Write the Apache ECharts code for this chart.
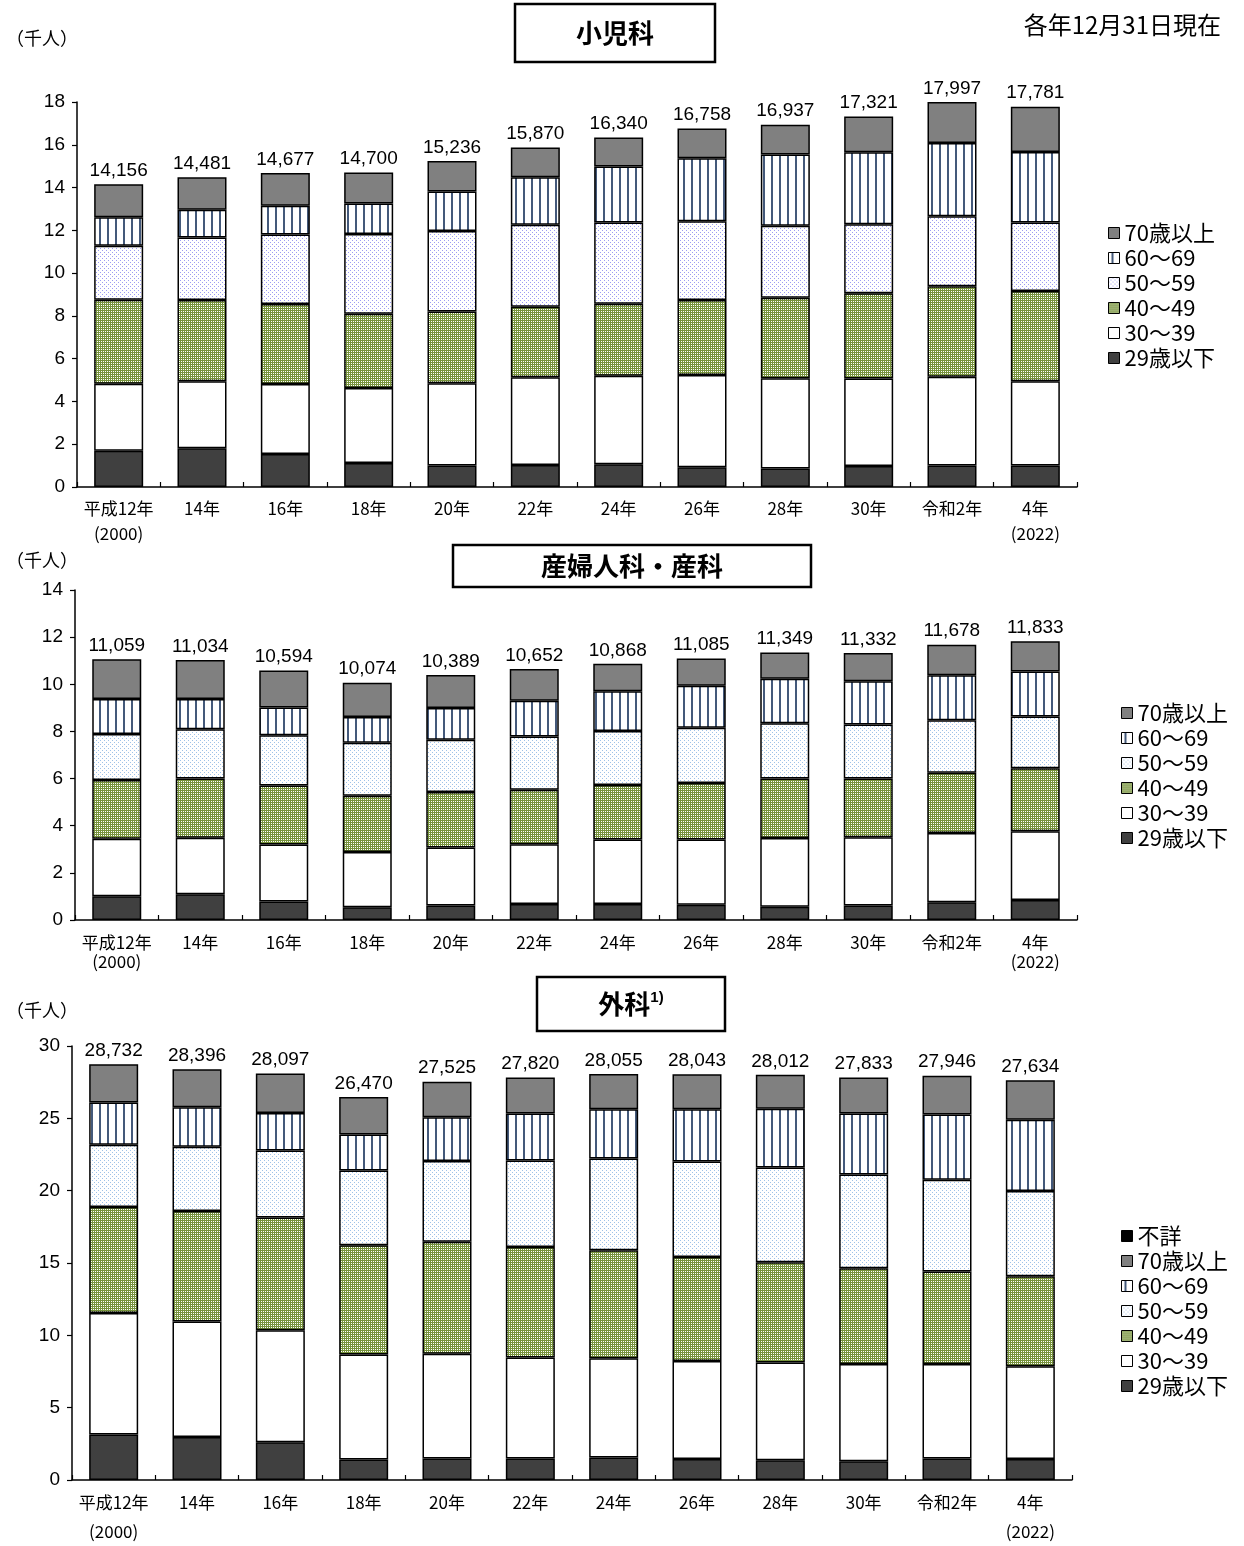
<!DOCTYPE html>
<html>
<head>
<meta charset="utf-8">
<script src="https://cdn.jsdelivr.net/npm/echarts@6/dist/echarts.min.js"></script>
<style>
html,body{margin:0;padding:0;background:#fff;}
#main{width:1244px;height:1546px;}
</style>
</head>
<body>
<div id="main"></div>
<script>
// ---------------- DATA ----------------
const categories = ['平成12年\n(2000)','14年','16年','18年','20年','22年','24年','26年','28年','30年','令和2年','4年\n(2022)'];
const ageNames = ['29歳以下','30～39','40～49','50～59','60～69','70歳以上'];
const unknownName = '不詳';

// 小児科 (千人)
const pedTotals = [14156,14481,14677,14700,15236,15870,16340,16758,16937,17321,17997,17781];
const pedU29 = [1.70,1.81,1.54,1.12,1.01,1.03,1.06,0.92,0.87,0.98,1.01,1.01];
const ped30 = [3.13,3.13,3.28,3.51,3.84,4.10,4.14,4.32,4.21,4.09,4.15,3.93];
const ped40 = [3.93,3.80,3.74,3.47,3.36,3.30,3.37,3.50,3.77,3.99,4.22,4.22];
const ped50 = [2.52,2.93,3.25,3.73,3.76,3.83,3.80,3.68,3.37,3.22,3.28,3.21];
const ped60 = [1.33,1.29,1.34,1.42,1.85,2.22,2.62,2.95,3.32,3.37,3.42,3.29];
const ped70 = [1.55,1.52,1.53,1.45,1.42,1.39,1.35,1.39,1.40,1.67,1.92,2.12];

// 産婦人科・産科 (千人)
const obsTotals = [11059,11034,10594,10074,10389,10652,10868,11085,11349,11332,11678,11833];
const obsU29 = [1.01,1.09,0.79,0.54,0.61,0.68,0.68,0.65,0.56,0.62,0.75,0.85];
const obs30 = [2.44,2.40,2.41,2.35,2.47,2.53,2.74,2.77,2.92,2.89,2.94,2.91];
const obs40 = [2.49,2.51,2.51,2.38,2.35,2.32,2.31,2.39,2.52,2.49,2.56,2.68];
const obs50 = [1.95,2.09,2.13,2.25,2.22,2.25,2.29,2.35,2.35,2.29,2.22,2.19];
const obs60 = [1.49,1.29,1.17,1.09,1.34,1.52,1.68,1.78,1.89,1.84,1.91,1.91];
const obs70 = [1.68,1.65,1.58,1.46,1.40,1.35,1.17,1.15,1.11,1.20,1.30,1.29];

// 外科 (千人)
const surTotals = [28732,28396,28097,26470,27525,27820,28055,28043,28012,27833,27946,27634];
const surU29 = [3.14,2.97,2.61,1.42,1.49,1.49,1.56,1.46,1.37,1.30,1.49,1.46];
const sur30 = [8.41,7.99,7.75,7.25,7.23,6.97,6.86,6.76,6.75,6.71,6.52,6.41];
const sur40 = [7.32,7.64,7.78,7.55,7.75,7.65,7.46,7.20,6.93,6.63,6.40,6.22];
const sur50 = [4.31,4.44,4.63,5.17,5.58,5.97,6.34,6.59,6.55,6.48,6.34,5.89];
const sur60 = [2.92,2.72,2.60,2.49,3.02,3.25,3.40,3.61,4.07,4.21,4.51,4.93];
const sur70 = [2.63,2.64,2.73,2.59,2.46,2.49,2.44,2.42,2.34,2.50,2.69,2.72];
const surUnknown = [0,0,0,0,0,0,0,0,0,0,0,0];

// ---------------- STYLES ----------------
function makePattern(w, h, draw){
  const c = document.createElement('canvas');
  c.width = w; c.height = h;
  const ctx = c.getContext('2d');
  draw(ctx);
  return {image: c, repeat: 'repeat'};
}
const stripe = makePattern(8, 8, ctx => {
  ctx.fillStyle = '#ffffff'; ctx.fillRect(0,0,8,8);
  ctx.fillStyle = '#44597a'; ctx.fillRect(3,0,2,8);
});
const dotsLav = makePattern(4, 4, ctx => {
  ctx.fillStyle = '#ffffff'; ctx.fillRect(0,0,4,4);
  ctx.fillStyle = '#9c9cf2'; ctx.fillRect(0,0,1,1); ctx.fillRect(2,2,1,1);
});
const dotsBlue = makePattern(4, 4, ctx => {
  ctx.fillStyle = '#ffffff'; ctx.fillRect(0,0,4,4);
  ctx.fillStyle = '#9fc2e8'; ctx.fillRect(0,0,1,1); ctx.fillRect(2,2,1,1);
});
const checker = makePattern(4, 4, ctx => {
  ctx.fillStyle = '#77933c'; ctx.fillRect(0,0,4,4);
  ctx.fillStyle = '#ffffff';
  ctx.fillRect(1,1,1,1); ctx.fillRect(3,3,1,1); ctx.fillRect(1,3,1,1); ctx.fillRect(3,1,1,1);
});
const fillU29 = '#404040', fill30 = '#ffffff', fill70 = '#808080', fillUnknown = '#000000';

const NUMFONT = '"Liberation Sans Narrow","Liberation Sans",sans-serif';
const JPFONT = '"Noto Sans CJK JP","Noto Sans",sans-serif';

function fmt(n){ return n.toLocaleString('en-US'); }

function buildSeries(idx, stack, arrs, fills, totals, extra){
  const out = [];
  arrs.forEach((arr, k) => {
    const s = {
      name: ageNames[k], type: 'bar', stack: stack,
      xAxisIndex: idx, yAxisIndex: idx,
      barWidth: 49, data: arr,
      itemStyle: {color: fills[k], borderColor: '#000', borderWidth: 1.5},
      emphasis: {disabled: true}, animation: false
    };
    if (k === arrs.length - 1) {
      s.label = {show: true, position: 'top', distance: 4, color: '#000',
        fontFamily: NUMFONT, fontSize: 19,
        formatter: p => fmt(totals[p.dataIndex])};
    }
    out.push(s);
  });
  if (extra) out.push(Object.assign({type:'bar', stack: stack, xAxisIndex: idx, yAxisIndex: idx,
    barWidth: 49, emphasis:{disabled:true}, animation:false}, extra));
  return out;
}

const series = [].concat(
  buildSeries(0, 'ped', [pedU29, ped30, ped40, ped50, ped60, ped70],
    [fillU29, fill30, checker, dotsLav, stripe, fill70], pedTotals),
  buildSeries(1, 'obs', [obsU29, obs30, obs40, obs50, obs60, obs70],
    [fillU29, fill30, checker, dotsBlue, stripe, fill70], obsTotals),
  buildSeries(2, 'sur', [surU29, sur30, sur40, sur50, sur60, sur70],
    [fillU29, fill30, checker, dotsBlue, stripe, fill70], surTotals,
    {name: unknownName, data: surUnknown, itemStyle:{color: fillUnknown, borderColor:'#000', borderWidth:0}})
);

const grids = [
  {left: 77, top: 102, width: 1000, height: 385},
  {left: 75, top: 590, width: 1002, height: 330},
  {left: 72, top: 1046, width: 1000, height: 437}
];
const yCfg = [{max: 18, interval: 2}, {max: 14, interval: 2}, {max: 30, interval: 5}];
const xLabelCfg = [{lineHeight: 25, margin: 9}, {lineHeight: 19, margin: 13}, {lineHeight: 29, margin: 8}];

const xAxes = grids.map((g, i) => ({
  type: 'category', gridIndex: i, data: categories,
  axisLine: {lineStyle: {color: '#000', width: 1.5}},
  axisTick: {show: true, inside: true, length: 5, lineStyle: {color: '#000', width: 1.2}},
  axisLabel: {interval: 0, color: '#000', fontFamily: JPFONT, fontSize: 17,
    lineHeight: xLabelCfg[i].lineHeight, margin: xLabelCfg[i].margin}
}));
const yAxes = grids.map((g, i) => ({
  type: 'value', gridIndex: i, min: 0, max: yCfg[i].max, interval: yCfg[i].interval,
  splitLine: {show: false},
  axisLine: {show: true, lineStyle: {color: '#000', width: 1.5}},
  axisTick: {show: true, length: 5, lineStyle: {color: '#000', width: 1.2}},
  axisLabel: {color: '#000', fontFamily: NUMFONT, fontSize: 19, margin: 12}
}));

const legendText = {fontFamily: JPFONT, fontSize: 22, color: '#000', lineHeight: 22};
function legendData(list, fiftyFill){
  return list.map(n => {
    if (n === '50～59') return {name: n, itemStyle: {color: fiftyFill, borderColor: '#000', borderWidth: 1}};
    return {name: n};
  });
}
const order6 = ['70歳以上','60～69','50～59','40～49','30～39','29歳以下'];
const order7 = ['不詳'].concat(order6);
const legends = [
  {left: 1103, top: 217, data: legendData(order6, dotsLav)},
  {left: 1116, top: 697, data: legendData(order6, dotsBlue)},
  {left: 1116, top: 1220, data: legendData(order7, dotsBlue)}
].map(l => Object.assign({orient: 'vertical', icon: 'rect', itemWidth: 11, itemHeight: 11,
  itemGap: 3, textStyle: legendText, selectedMode: false,
  itemStyle: {borderColor: '#000', borderWidth: 1}}, l));

function titleBox(x, y, w, h, rich){
  return [
    {type: 'rect', shape: {x: x, y: y, width: w, height: h}, style: {fill: '#fff', stroke: '#000', lineWidth: 2.5}, silent: true},
    {type: 'text', x: x + w/2, y: y + h/2, style: Object.assign({align: 'center', verticalAlign: 'middle', fill: '#000'}, rich), silent: true}
  ];
}
const boldJP = {fontFamily: JPFONT, fontSize: 26, fontWeight: 'bold'};
const graphics = [].concat(
  titleBox(515, 4, 200, 58, Object.assign({text: '小児科'}, boldJP)),
  titleBox(453, 545, 358, 42, Object.assign({text: '産婦人科・産科'}, boldJP)),
  titleBox(537, 977, 188, 54, {text: '{a|外科}{s|1)}', rich: {
    a: {fontFamily: JPFONT, fontSize: 26, fontWeight: 'bold', fill: '#000'},
    s: {fontFamily: NUMFONT, fontSize: 15, fontWeight: 'bold', fill: '#000', verticalAlign: 'top', padding: [0,0,12,0]}
  }}),
  [
    {type: 'text', x: 6, y: 38, style: {text: '（千人）', fontFamily: JPFONT, fontSize: 18, fill: '#000', verticalAlign: 'middle'}, silent: true},
    {type: 'text', x: 6, y: 560, style: {text: '（千人）', fontFamily: JPFONT, fontSize: 18, fill: '#000', verticalAlign: 'middle'}, silent: true},
    {type: 'text', x: 6, y: 1010, style: {text: '（千人）', fontFamily: JPFONT, fontSize: 18, fill: '#000', verticalAlign: 'middle'}, silent: true},
    {type: 'text', x: 1221, y: 25, style: {text: '各年12月31日現在', fontFamily: JPFONT, fontSize: 24, fill: '#000', align: 'right', verticalAlign: 'middle'}, silent: true}
  ]
);

const chart = echarts.init(document.getElementById('main'));
chart.setOption({
  animation: false,
  backgroundColor: '#fff',
  textStyle: {fontFamily: JPFONT},
  grid: grids,
  xAxis: xAxes,
  yAxis: yAxes,
  legend: legends,
  graphic: graphics,
  series: series
});
</script>
</body>
</html>
